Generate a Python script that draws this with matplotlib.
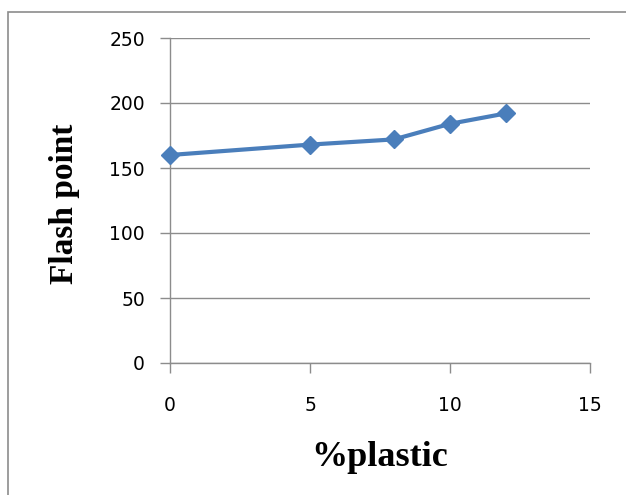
import matplotlib.pyplot as plt
from matplotlib.patches import Rectangle

# === Data
plastic = [0, 5, 8, 10, 12]
flash_point = [160, 168, 172, 184, 192]
x_ticks = [0, 5, 10, 15]
y_ticks = [0, 50, 100, 150, 200, 250]

fig = plt.figure(figsize=(6.26, 4.95), dpi=100)
W, H = 626, 495

# outer chart border (Excel-style frame)
fig.patches.append(Rectangle((8 / W, -0.1), 1.2, 1 - 12 / H + 0.1, transform=fig.transFigure,
                             fill=False, edgecolor="#8c8c8c", linewidth=1.2))

ax = fig.add_axes([170 / W, 1 - 363 / H, 420 / W, 325 / H])
ax.plot(plastic, flash_point, color="#4A7EBB", linewidth=3, marker="D", markersize=9,
        markerfacecolor="#4A7EBB", markeredgecolor="#4A7EBB", zorder=3, clip_on=False)

ax.set_xlim(0, 15)
ax.set_ylim(0, 250)
ax.set_xticks(x_ticks)
ax.set_yticks(y_ticks)
ax.yaxis.grid(True, color="#8c8c8c", linewidth=1)
ax.set_axisbelow(True)

for side in ["top", "right"]:
    ax.spines[side].set_visible(False)
for side in ["left", "bottom"]:
    ax.spines[side].set_color("#8c8c8c")
    ax.spines[side].set_linewidth(1)

ax.tick_params(axis="y", direction="out", length=7, width=1, color="#8c8c8c", labelsize=13.5, pad=11)
ax.tick_params(axis="x", direction="out", length=7, width=1, color="#8c8c8c", labelsize=13.5, pad=17)

ax.set_xlabel("%plastic", fontsize=26, family="Liberation Serif", weight="bold", va="center")
ax.xaxis.set_label_coords(0.5, (363 - 457) / 325)
ax.set_ylabel("Flash point", fontsize=24, family="Liberation Serif", weight="bold", va="center")
ax.yaxis.set_label_coords((65 - 170) / 420, (363 - 204) / 325)

fig.savefig("out.png", dpi=100)
